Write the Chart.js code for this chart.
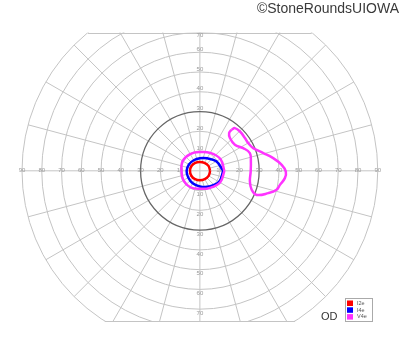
<!DOCTYPE html>
<html>
<head>
<meta charset="utf-8">
<script src="https://cdn.jsdelivr.net/npm/chart.js@4/dist/chart.umd.min.js"></script>
<style>
  html, body { margin: 0; padding: 0; background: #fff; }
  #wrap { width: 400px; height: 352px; position: relative; }
</style>
</head>
<body>
<div id="wrap"><canvas id="field"></canvas></div>
<script>
// isopters, read per meridian (deg, counter-clockwise from right) as eccentricity in degrees
const meridians = [0, 30, 60, 90, 120, 150, 180, 210, 240, 270, 300, 330];
const i2e_ecc = [5.2, 5.0, 4.6, 4.5, 4.7, 4.9, 5.0, 5.0, 4.9, 4.8, 4.9, 5.1];
const i4e_ecc = [11.8, 9.6, 7.3, 6.4, 6.2, 6.4, 6.7, 6.8, 7.3, 7.9, 9.2, 11.2];
const v4e_ecc = [12.4, 12.0, 10.5, 9.5, 9.8, 10.0, 9.3, 9.6, 9.6, 9.1, 10.0, 11.8];

// V4e island in the temporal field, x/y in degrees
const island_x = [16.0, 17.7, 20.3, 22.8, 24.5, 27.0, 32.1, 37.1, 41.4, 43.5, 43.0, 40.5,
  38.8, 34.6, 28.7, 26.2, 25.3, 25.7, 25.8, 25.3, 21.9, 17.7, 15.2, 14.8];
const island_y = [20.8, 21.6, 19.9, 16.6, 14.0, 11.5, 9.0, 6.4, 3.0, -0.4, -3.7, -7.1,
  -9.6, -11.3, -12.2, -9.6, -5.4, -0.4, 4.7, 9.0, 11.5, 13.2, 16.6, 19.1];

const isopter_names = ["I2e", "I4e", "V4e"];
const isopter_colors = ["#ff0000", "#0000ff", "#ff33ff"];

// grid
const ring_degrees = [10, 20, 30, 40, 50, 60, 70, 80, 90];
const spoke_step = 15;
const spoke_start = 5;
const field_top = 70;
const field_bottom = -76;

function polar_points(ecc) {
  const pts = ecc.map((e, i) => {
    const a = meridians[i] * Math.PI / 180;
    return { x: e * Math.cos(a), y: e * Math.sin(a) };
  });
  pts.push(pts[0]);
  return pts;
}

function xy_points(xs, ys) {
  const pts = xs.map((x, i) => ({ x, y: ys[i] }));
  pts.push(pts[0]);
  return pts;
}

function isopter(data, color) {
  return {
    data,
    showLine: true,
    borderColor: color,
    backgroundColor: color,
    borderWidth: 2.5,
    pointRadius: 0,
    tension: 0.4,
    fill: false,
  };
}

const grid_plugin = {
  id: "goldmann_grid",
  beforeDatasetsDraw(chart) {
    const { ctx, scales: { x, y }, chartArea } = chart;
    const cx = x.getPixelForValue(0);
    const cy = y.getPixelForValue(0);
    const ppd = (x.getPixelForValue(10) - cx) / 10;
    const R = 90 * ppd;
    const top = y.getPixelForValue(field_top);
    const bottom = y.getPixelForValue(field_bottom);

    ctx.save();
    ctx.beginPath();
    ctx.rect(chartArea.left - 3, top, chartArea.right - chartArea.left + 6, bottom - top);
    ctx.clip();

    ctx.lineWidth = 1;
    ctx.strokeStyle = "#c4c4c4";
    for (let a = 0; a < 360; a += spoke_step) {
      const r = a * Math.PI / 180;
      const r0 = a % 90 === 0 ? 0 : spoke_start * ppd;
      ctx.beginPath();
      ctx.moveTo(cx + r0 * Math.cos(r), cy - r0 * Math.sin(r));
      ctx.lineTo(cx + R * Math.cos(r), cy - R * Math.sin(r));
      ctx.stroke();
    }
    ring_degrees.forEach((d) => {
      ctx.beginPath();
      ctx.arc(cx, cy, d * ppd, 0, Math.PI * 2);
      if (d === 30) {
        ctx.strokeStyle = "#666";
        ctx.lineWidth = 1.3;
      } else {
        ctx.strokeStyle = "#c4c4c4";
        ctx.lineWidth = 1;
      }
      ctx.stroke();
    });
    ctx.restore();

    // flat top / bottom edges of the field
    ctx.save();
    ctx.strokeStyle = "#c4c4c4";
    ctx.lineWidth = 1;
    [top, bottom].forEach((yy) => {
      const dy = yy - cy;
      const dx = Math.sqrt(R * R - dy * dy);
      ctx.beginPath();
      ctx.moveTo(cx - dx, Math.round(yy) + 0.5);
      ctx.lineTo(cx + dx, Math.round(yy) + 0.5);
      ctx.stroke();
    });

    // degree labels
    ctx.fillStyle = "#9a9a9a";
    ctx.font = "6px 'Liberation Sans', Arial, sans-serif";
    ctx.textAlign = "center";
    ctx.textBaseline = "middle";
    ring_degrees.forEach((d) => {
      ctx.fillText(String(d), cx - d * ppd, cy);
      ctx.fillText(String(d), cx + d * ppd, cy);
      if (d <= 70) {
        const up = d === 70 ? cy - d * ppd + 3 : cy - d * ppd - 3;
        ctx.fillText(String(d), cx, up);
        ctx.fillText(String(d), cx, cy + d * ppd + 4);
      }
    });
    ctx.restore();
  },
  afterDraw(chart) {
    const { ctx } = chart;
    ctx.save();
    // copyright
    ctx.fillStyle = "#3a3a3a";
    ctx.font = "14px 'Liberation Sans', Arial, sans-serif";
    ctx.textAlign = "right";
    ctx.textBaseline = "middle";
    ctx.fillText("\u00A9StoneRoundsUIOWA", 399, 9);

    // eye
    ctx.fillStyle = "#333";
    ctx.font = "11px 'Liberation Sans', Arial, sans-serif";
    ctx.textAlign = "left";
    ctx.fillText("OD", 321, 317);

    // legend
    ctx.strokeStyle = "#aaa";
    ctx.lineWidth = 1;
    ctx.fillStyle = "#fff";
    ctx.fillRect(345.5, 298.5, 27, 23);
    ctx.strokeRect(345.5, 298.5, 27, 23);
    ctx.font = "5.5px 'Liberation Sans', Arial, sans-serif";
    isopter_names.forEach((name, i) => {
      ctx.fillStyle = isopter_colors[i];
      ctx.fillRect(347, 300.5 + i * 6.8, 6, 5.5);
      ctx.fillStyle = "#555";
      ctx.fillText(name, 357, 303.3 + i * 6.8);
    });
    ctx.restore();
  },
};

new Chart(document.getElementById("field"), {
  type: "scatter",
  data: {
    datasets: [
      isopter(polar_points(v4e_ecc), isopter_colors[2]),
      isopter(xy_points(island_x, island_y), isopter_colors[2]),
      isopter(polar_points(i4e_ecc), isopter_colors[1]),
      isopter(polar_points(i2e_ecc), isopter_colors[0]),
    ],
  },
  options: {
    responsive: true,
    maintainAspectRatio: false,
    animation: false,
    layout: {
      padding: { left: 22, right: 22.25, top: 32.5, bottom: 31 },
    },
    scales: {
      x: { type: "linear", min: -90, max: 90, display: false },
      y: { type: "linear", min: field_bottom, max: field_top, display: false },
    },
    plugins: {
      legend: { display: false },
      tooltip: { enabled: false },
    },
  },
  plugins: [grid_plugin],
});
</script>
</body>
</html>
